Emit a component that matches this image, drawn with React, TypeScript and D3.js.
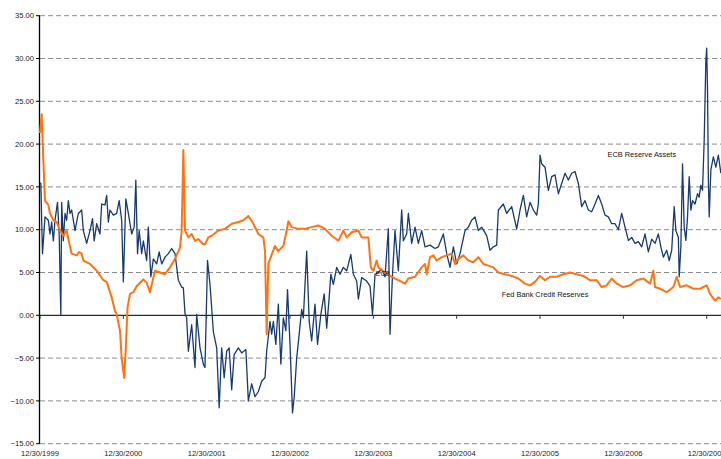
import React, { useEffect, useRef } from 'react';
import * as d3 from 'd3';

// x = years since 12/30/1999, y = value
const ecbReserveAssets: [number, number][] = [
    [0.00, 15.5], [0.01, 15.4], [0.03, 7.2], [0.06, 11.5], [0.10, 11.1], [0.12, 9.5], [0.14, 10.9],
    [0.16, 8.7], [0.18, 11.1], [0.21, 13.2], [0.23, 9.5], [0.25, 0.0], [0.26, 13.2], [0.28, 8.7],
    [0.30, 11.9], [0.32, 11.1], [0.34, 13.4], [0.36, 11.9], [0.38, 12.3], [0.42, 9.9], [0.46, 11.9],
    [0.50, 12.3], [0.52, 9.9], [0.56, 8.4], [0.60, 9.9], [0.63, 11.3], [0.65, 8.7], [0.68, 10.7],
    [0.72, 9.5], [0.74, 13.0], [0.78, 12.9], [0.80, 14.0], [0.82, 10.9], [0.84, 12.3], [0.88, 11.7],
    [0.92, 11.9], [0.95, 13.4], [0.98, 11.1], [1.00, 3.9], [1.03, 13.6], [1.06, 11.9], [1.10, 9.5],
    [1.13, 10.3], [1.15, 15.8], [1.17, 7.2], [1.19, 9.9], [1.22, 7.2], [1.24, 8.7], [1.28, 6.4],
    [1.30, 10.3], [1.33, 4.5], [1.36, 6.6], [1.40, 6.0], [1.43, 7.4], [1.46, 6.0], [1.50, 6.8],
    [1.54, 7.2], [1.58, 7.8], [1.62, 7.2], [1.66, 4.1], [1.70, 3.3], [1.72, 3.2], [1.74, 0.2],
    [1.76, -0.3], [1.78, -4.2], [1.82, -1.1], [1.86, -6.1], [1.88, 0.1], [1.92, -3.8], [1.96, -5.7],
    [1.98, -6.1], [2.01, 6.4], [2.04, 3.6], [2.08, -1.9], [2.12, -3.8], [2.15, -10.8], [2.18, -3.8],
    [2.21, -7.3], [2.24, -4.2], [2.27, -3.8], [2.30, -8.7], [2.33, -4.6], [2.38, -3.8], [2.42, -4.4],
    [2.47, -4.0], [2.50, -10.0], [2.54, -8.0], [2.58, -9.5], [2.62, -8.9], [2.66, -7.7], [2.70, -7.3],
    [2.72, -4.2], [2.76, -0.7], [2.78, -2.2], [2.80, -0.7], [2.83, -3.4], [2.86, 1.3], [2.89, -5.7],
    [2.92, -0.3], [2.95, -1.8], [2.97, 3.0], [3.00, -3.4], [3.03, -11.4], [3.05, -9.6], [3.08, -5.0],
    [3.11, -2.2], [3.14, 0.7], [3.16, -0.3], [3.20, 7.5], [3.23, -0.7], [3.26, -3.0], [3.30, 1.3],
    [3.33, -3.4], [3.37, 0.1], [3.41, 2.5], [3.44, -1.5], [3.47, 2.1], [3.49, 4.8], [3.52, 3.6],
    [3.56, 5.6], [3.60, 4.8], [3.64, 5.6], [3.68, 5.2], [3.73, 7.1], [3.76, 4.8], [3.80, 4.0],
    [3.82, 1.9], [3.86, 4.4], [3.92, 4.0], [3.96, 3.4], [3.99, 0.1], [4.02, 4.8], [4.06, 5.0],
    [4.10, 5.4], [4.14, 4.5], [4.18, 10.1], [4.20, -2.2], [4.23, 4.8], [4.26, 9.9], [4.30, 5.2],
    [4.34, 12.3], [4.36, 8.7], [4.40, 9.5], [4.42, 11.9], [4.46, 8.4], [4.50, 10.3], [4.54, 8.4],
    [4.58, 9.9], [4.62, 8.0], [4.68, 8.2], [4.74, 7.8], [4.78, 8.0], [4.84, 9.5], [4.88, 7.2],
    [4.92, 5.6], [4.96, 8.0], [5.00, 6.0], [5.04, 7.2], [5.10, 9.9], [5.14, 10.3], [5.18, 11.1],
    [5.22, 11.5], [5.26, 9.9], [5.30, 10.3], [5.36, 9.3], [5.40, 7.6], [5.44, 8.0], [5.48, 8.2],
    [5.50, 12.3], [5.56, 13.0], [5.60, 11.9], [5.66, 12.7], [5.72, 10.1], [5.76, 12.3], [5.80, 14.0],
    [5.84, 11.5], [5.88, 13.2], [5.92, 12.3], [5.96, 11.7], [5.98, 13.0], [6.00, 18.7], [6.02, 17.7],
    [6.06, 17.3], [6.10, 14.6], [6.14, 16.2], [6.18, 16.4], [6.22, 14.2], [6.26, 15.4], [6.30, 16.6],
    [6.34, 15.8], [6.38, 16.6], [6.42, 16.8], [6.46, 15.4], [6.50, 12.7], [6.54, 13.4], [6.58, 12.3],
    [6.62, 12.1], [6.66, 13.0], [6.70, 14.0], [6.74, 13.0], [6.78, 11.7], [6.82, 11.5], [6.86, 10.7],
    [6.90, 10.7], [6.94, 10.0], [6.98, 11.9], [7.02, 10.3], [7.06, 8.75], [7.10, 9.1], [7.14, 8.4],
    [7.18, 8.6], [7.22, 8.0], [7.26, 9.5], [7.30, 7.4], [7.34, 8.9], [7.38, 8.4], [7.42, 9.5],
    [7.45, 8.0], [7.48, 6.8], [7.52, 7.6], [7.55, 6.4], [7.58, 7.6], [7.61, 12.7], [7.63, 9.9],
    [7.66, 9.1], [7.67, 4.5], [7.69, 8.0], [7.71, 17.7], [7.73, 10.3], [7.75, 8.75], [7.77, 11.5],
    [7.79, 16.2], [7.81, 12.3], [7.83, 13.4], [7.86, 13.0], [7.89, 14.2], [7.91, 13.8], [7.93, 15.2],
    [7.95, 14.6], [7.97, 20.5], [7.99, 29.8], [8.00, 31.2], [8.01, 26.3], [8.02, 15.8], [8.03, 11.5],
    [8.05, 17.0], [8.08, 18.5], [8.11, 17.3], [8.14, 18.7], [8.17, 16.6]
];

const fedBankCreditReserves: [number, number][] = [
    [0.00, 21.3], [0.02, 23.5], [0.04, 18.1], [0.06, 13.4], [0.10, 12.9], [0.12, 11.9], [0.16, 11.1],
    [0.20, 10.9], [0.24, 9.9], [0.28, 9.3], [0.32, 9.9], [0.34, 8.9], [0.38, 7.2], [0.44, 7.0],
    [0.47, 7.4], [0.50, 7.2], [0.52, 6.4], [0.60, 6.0], [0.68, 5.2], [0.76, 4.1], [0.80, 3.9],
    [0.86, 2.1], [0.90, 0.5], [0.92, 0.1], [0.96, -1.8], [0.98, -5.0], [1.01, -7.3], [1.03, -3.8],
    [1.05, 0.9], [1.08, 2.5], [1.12, 2.7], [1.16, 3.4], [1.20, 3.8], [1.24, 4.2], [1.28, 3.8],
    [1.32, 2.7], [1.36, 4.4], [1.38, 5.2], [1.44, 5.0], [1.50, 4.8], [1.56, 5.6], [1.62, 6.6],
    [1.68, 7.9], [1.70, 9.9], [1.72, 19.3], [1.74, 9.9], [1.78, 9.1], [1.82, 9.5], [1.86, 8.7],
    [1.90, 8.9], [1.96, 8.3], [1.98, 8.3], [2.02, 9.1], [2.06, 9.3], [2.14, 9.9], [2.22, 10.1],
    [2.30, 10.7], [2.38, 10.9], [2.44, 11.1], [2.50, 11.6], [2.56, 10.7], [2.62, 9.5], [2.68, 9.1],
    [2.70, 7.5], [2.72, -2.2], [2.74, 6.0], [2.78, 7.1], [2.82, 8.1], [2.86, 7.5], [2.92, 8.1],
    [2.96, 9.9], [2.98, 11.0], [3.02, 10.3], [3.10, 10.1], [3.18, 10.1], [3.26, 10.3], [3.34, 10.5],
    [3.42, 10.1], [3.50, 9.3], [3.58, 8.7], [3.64, 9.9], [3.68, 9.1], [3.74, 9.7], [3.82, 9.9],
    [3.86, 9.1], [3.94, 9.1], [3.97, 5.6], [4.00, 5.2], [4.04, 6.4], [4.06, 5.6], [4.14, 5.0],
    [4.22, 4.5], [4.30, 4.1], [4.38, 3.7], [4.42, 4.3], [4.50, 4.5], [4.58, 5.6], [4.62, 6.0],
    [4.64, 4.8], [4.68, 6.8], [4.72, 7.0], [4.76, 6.4], [4.82, 6.8], [4.88, 7.0], [4.94, 7.2],
    [4.98, 6.0], [5.02, 6.6], [5.08, 7.0], [5.14, 6.4], [5.20, 6.2], [5.26, 6.8], [5.32, 6.0],
    [5.38, 5.8], [5.44, 5.6], [5.50, 5.0], [5.58, 4.8], [5.66, 4.6], [5.74, 4.3], [5.82, 3.7],
    [5.88, 3.5], [5.94, 3.9], [6.00, 4.6], [6.06, 4.1], [6.12, 4.5], [6.20, 4.5], [6.28, 4.8],
    [6.36, 5.0], [6.44, 4.8], [6.52, 4.6], [6.60, 4.1], [6.68, 4.1], [6.74, 3.3], [6.80, 3.5],
    [6.86, 4.3], [6.92, 3.7], [7.00, 3.3], [7.08, 3.5], [7.16, 4.1], [7.24, 4.3], [7.32, 3.7],
    [7.36, 5.2], [7.38, 3.3], [7.44, 3.1], [7.52, 2.7], [7.60, 3.3], [7.64, 4.5], [7.68, 3.3],
    [7.76, 3.5], [7.84, 3.1], [7.92, 3.1], [8.00, 3.5], [8.04, 2.5], [8.10, 1.7], [8.14, 2.1],
    [8.17, 1.9]
];

const yTicks = [35, 30, 25, 20, 15, 10, 5, 0, -5, -10, -15];
const xTickLabels = ['12/30/1999', '12/30/2000', '12/30/2001', '12/30/2002', '12/30/2003',
    '12/30/2004', '12/30/2005', '12/30/2006', '12/30/2007'];

const seriesLabels = [
    { text: 'ECB Reserve Assets', t: 6.81, v: 18.5, size: 7.4 },
    { text: 'Fed Bank Credit Reserves', t: 5.54, v: 2.1, size: 7.4 },
    { text: 'ECB', t: 4.03, v: 4.6, size: 6.8 },
];

const App: React.FC = () => {
    const svgRef = useRef<SVGSVGElement>(null);
    const width = 721;
    const height = 459;

    useEffect(() => {
        if (!svgRef.current) return;
        const svg = d3.select(svgRef.current);
        svg.selectAll("*").remove();

        const left = 40;
        const x = d3.scaleLinear().domain([0, 8]).range([left, 706.7]);
        const y = d3.scaleLinear().domain([-15, 35]).range([443.7, 15.7]);
        const font = "Liberation Sans, Arial, sans-serif";

        svg.append("rect").attr("width", width).attr("height", height).attr("fill", "#fff");

        // dashed gridlines
        yTicks.filter(d => d !== 0).forEach(d => {
            svg.append("line")
                .attr("x1", left).attr("x2", width)
                .attr("y1", y(d)).attr("y2", y(d))
                .attr("stroke", "#8c8c8c")
                .attr("stroke-width", 1)
                .attr("stroke-dasharray", "5,3");
        });

        // y labels + ticks
        yTicks.forEach(d => {
            svg.append("line")
                .attr("x1", left - 4).attr("x2", left)
                .attr("y1", y(d)).attr("y2", y(d))
                .attr("stroke", "#000");
            svg.append("text")
                .attr("x", 34)
                .attr("y", y(d) + 2.7)
                .attr("text-anchor", "end")
                .attr("font-family", font)
                .attr("font-size", 7.6)
                .attr("fill", "#1a1a1a")
                .text(d3.format(".2f")(d));
        });

        // zero line with year ticks
        svg.append("line")
            .attr("x1", left).attr("x2", width)
            .attr("y1", y(0)).attr("y2", y(0))
            .attr("stroke", "#2b2b2b").attr("stroke-width", 1.2);
        xTickLabels.forEach((lab, i) => {
            svg.append("line")
                .attr("x1", x(i)).attr("x2", x(i))
                .attr("y1", y(0)).attr("y2", y(0) + 3.5)
                .attr("stroke", "#2b2b2b");
            svg.append("text")
                .attr("x", x(i))
                .attr("y", 456)
                .attr("text-anchor", "middle")
                .attr("font-family", font)
                .attr("font-size", 7.6)
                .attr("fill", "#1a1a1a")
                .text(lab);
        });

        // left axis
        svg.append("line")
            .attr("x1", left - 0.5).attr("x2", left - 0.5)
            .attr("y1", y(35)).attr("y2", y(-15))
            .attr("stroke", "#000").attr("stroke-width", 1.3);

        const line = d3.line<[number, number]>()
            .x(d => x(d[0]))
            .y(d => y(d[1]));

        svg.append("path")
            .datum(ecbReserveAssets)
            .attr("fill", "none")
            .attr("stroke", "#183a6c")
            .attr("stroke-width", 1.3)
            .attr("stroke-linejoin", "round")
            .attr("d", line);

        svg.append("path")
            .datum(fedBankCreditReserves)
            .attr("fill", "none")
            .attr("stroke", "#ff7314")
            .attr("stroke-width", 2)
            .attr("stroke-linejoin", "round")
            .attr("d", line);

        seriesLabels.forEach(l => {
            svg.append("text")
                .attr("x", x(l.t))
                .attr("y", y(l.v))
                .attr("font-family", font)
                .attr("font-size", l.size)
                .attr("fill", "#111")
                .text(l.text);
        });
    }, []);

    return (
        <svg ref={svgRef} width={width} height={height}
            style={{ position: 'absolute', left: 0, top: 0, display: 'block' }} />
    );
};

export default App;
